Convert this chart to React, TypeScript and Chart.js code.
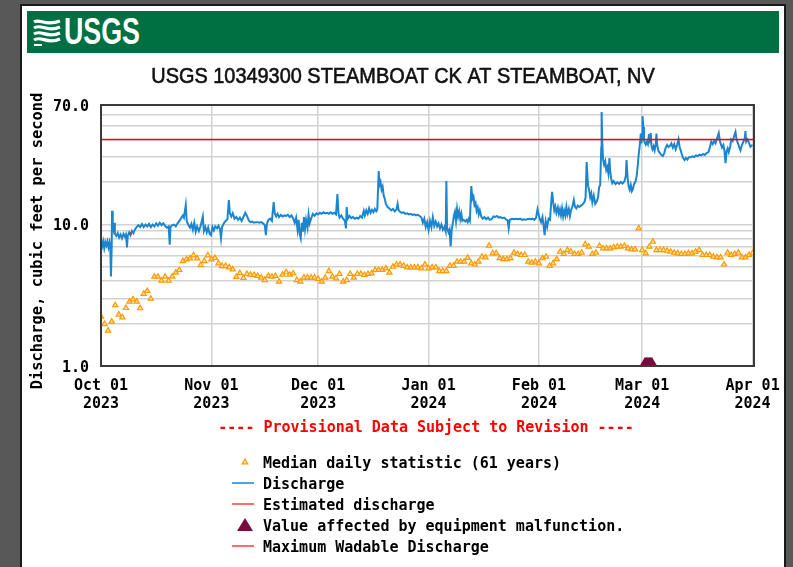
import React, { useEffect, useRef } from 'react';
import { Chart, registerables } from 'chart.js';

Chart.register(...registerables);

const chartTitle = 'USGS 10349300 STEAMBOAT CK AT STEAMBOAT, NV';
const yAxisTitle = 'Discharge, cubic feet per second';
const provisionalNote = '---- Provisional Data Subject to Revision ----';

// x axis: days since Oct 01 2023
const tickDays = [0, 31, 61, 92, 123, 152, 183];
const tickMonths = ['Oct 01', 'Nov 01', 'Dec 01', 'Jan 01', 'Feb 01', 'Mar 01', 'Apr 01'];
const tickYears = ['2023', '2023', '2023', '2024', '2024', '2024', '2024'];
const xMax = 183.4;

const yGridValues = [1, 2, 3, 4, 5, 6, 7, 8, 9, 10, 20, 30, 40, 50, 60, 70];
const yLabelValues = [1, 10, 70];
const yLabelTexts = ['1.0', '10.0', '70.0'];

// Median daily statistic (61 years), one value per day starting Oct 01
const medianDaily = [
  2.23, 1.98, 1.78, 2.06, 2.69, 2.31, 2.21, 2.57, 2.85, 2.96,
  2.85, 2.56, 3.24, 3.39, 2.99, 4.28, 4.28, 4.01, 4.28, 4.01,
  4.28, 4.57, 4.77, 5.52, 5.67, 5.77, 6.06, 5.77, 5.17, 5.52,
  6.06, 5.67, 5.80, 5.32, 5.09, 5.09, 4.98, 4.82, 4.26, 4.54,
  4.19, 4.47, 4.42, 4.40, 4.33, 4.22, 4.05, 4.33, 4.28, 4.33,
  3.95, 4.42, 4.60, 4.42, 4.51, 4.05, 3.95, 4.22, 4.22, 4.22,
  4.22, 4.12, 3.95, 4.21, 4.69, 4.28, 4.17, 4.47, 3.95, 4.05,
  4.47, 4.21, 4.47, 4.47, 4.40, 4.47, 4.52, 4.77, 4.77, 4.77,
  4.90, 4.57, 5.03, 5.22, 5.22, 5.11, 4.98, 4.98, 4.98, 4.98,
  4.90, 5.22, 4.90, 4.98, 4.98, 4.69, 4.69, 4.69, 5.11, 5.11,
  5.46, 5.46, 5.46, 5.82, 5.32, 5.22, 5.46, 5.92, 5.86, 7.08,
  6.26, 6.26, 5.78, 5.69, 5.69, 5.78, 6.32, 6.19, 6.09, 6.09,
  5.46, 5.37, 5.46, 5.32, 5.78, 5.92, 5.11, 5.32, 5.69, 6.42,
  6.19, 6.60, 6.42, 6.19, 6.19, 6.32, 7.25, 6.97, 6.19, 6.32,
  7.05, 6.79, 6.79, 6.79, 6.90, 6.97, 6.97, 7.05, 6.79, 6.68,
  6.68, 9.40, 6.60, 6.26, 6.97, 7.56, 6.60, 6.60, 6.60, 6.53,
  6.42, 6.32, 6.26, 6.19, 6.19, 6.26, 6.26, 6.42, 6.60, 6.09,
  6.09, 6.09, 5.92, 5.86, 5.86, 5.22, 6.32, 6.09, 6.19, 6.32,
  5.86, 5.86, 6.09, 6.26,
];

// Discharge readings: [day since Oct 01, cfs]
const discharge: [number, number][] = [
  [0, 7.4], [0.3, 7.0], [0.6, 7.6], [0.9, 6.8], [1.2, 7.5], [1.5, 7.1], [1.8, 7.6], [2.1, 6.9], [2.4, 7.5], [2.6, 7.0],
  [2.8, 4.3], [3.0, 6.8], [3.1, 12.5], [3.3, 10.2], [3.5, 9.4], [3.7, 10.3], [3.9, 8.6], [4.3, 8.3], [4.7, 8.7], [5.1, 8.1],
  [5.5, 8.5], [5.9, 8.0], [6.3, 8.6], [6.7, 8.2], [7.0, 8.5], [7.3, 6.9], [7.5, 8.3], [7.9, 8.8], [8.3, 8.4], [8.7, 9.0],
  [9.1, 8.7], [9.5, 9.2], [10.0, 9.6], [10.5, 9.9], [11.0, 9.6], [11.5, 10.1], [12.0, 9.6], [12.5, 10.0], [13.0, 9.7], [13.5, 10.1],
  [14.0, 9.6], [14.5, 10.0], [15.0, 9.7], [15.5, 10.2], [16.0, 9.8], [16.5, 10.3], [17.0, 9.9], [17.5, 10.2], [18.0, 9.8], [18.5, 9.5],
  [19.0, 9.7], [19.3, 7.2], [19.5, 9.6], [20.0, 9.9], [20.5, 10.0], [21.0, 9.7], [21.5, 10.2], [22.0, 10.6], [22.5, 11.1], [23.0, 11.6],
  [23.3, 11.2], [23.8, 13.7], [24.1, 10.5], [24.5, 10.0], [25.0, 9.5], [25.4, 10.1], [25.8, 9.2], [26.2, 10.3], [26.6, 8.9], [27.0, 9.7],
  [27.5, 9.0], [28.0, 9.8], [28.6, 11.4], [28.9, 9.0], [29.3, 9.6], [29.7, 8.8], [30.1, 9.5], [30.5, 8.6], [30.9, 8.4], [31.3, 9.6],
  [31.7, 9.1], [32.1, 9.7], [32.6, 9.4], [33.0, 9.8], [33.4, 9.3], [33.7, 8.0], [34.0, 9.6], [34.5, 10.2], [35.0, 10.6], [35.5, 10.9],
  [35.9, 14.9], [36.2, 12.0], [36.6, 11.4], [37.0, 12.0], [37.5, 11.0], [38.0, 11.3], [38.5, 10.8], [39.0, 11.2], [39.5, 10.6], [40.0, 11.3],
  [40.5, 12.1], [41.0, 11.5], [41.5, 10.7], [42.0, 10.4], [42.5, 10.5], [43.0, 10.3], [43.5, 10.4], [44.0, 10.4], [44.5, 10.3], [45.0, 10.4],
  [45.5, 10.2], [46.0, 9.9], [46.3, 8.4], [46.6, 10.1], [47.0, 10.8], [47.5, 11.0], [48.0, 10.6], [48.5, 14.4], [48.8, 12.0], [49.2, 11.4],
  [49.6, 11.9], [50.0, 11.3], [50.5, 11.7], [51.0, 11.4], [51.5, 11.6], [52.0, 11.5], [52.5, 11.7], [53.0, 11.3], [53.5, 11.6], [54.0, 11.0],
  [54.4, 10.3], [54.8, 11.2], [55.2, 9.2], [55.5, 10.8], [55.8, 8.6], [56.1, 8.0], [56.4, 10.3], [56.7, 8.9], [57.0, 11.3], [57.3, 9.3],
  [57.6, 10.8], [58.0, 9.5], [58.3, 11.7], [58.6, 10.2], [59.0, 11.0], [59.5, 11.9], [60.0, 11.5], [60.5, 12.0], [61.0, 11.8], [61.5, 12.1],
  [62.0, 11.9], [62.5, 12.2], [63.0, 12.0], [63.5, 12.1], [64.0, 11.9], [64.5, 12.2], [65.0, 11.9], [65.5, 12.1], [66.0, 11.8], [66.4, 16.4],
  [66.7, 12.0], [67.0, 11.2], [67.5, 11.6], [68.0, 11.0], [68.5, 10.6], [68.8, 9.4], [69.0, 13.3], [69.3, 11.0], [69.8, 11.5], [70.3, 11.1],
  [70.8, 11.3], [71.3, 11.0], [71.8, 11.2], [72.3, 11.0], [72.8, 11.5], [73.3, 11.2], [73.8, 12.5], [74.1, 11.6], [74.5, 12.6], [74.9, 11.9],
  [75.3, 13.0], [75.7, 12.1], [76.1, 12.7], [76.5, 12.2], [76.9, 12.9], [77.3, 12.4], [77.6, 12.8], [78.0, 23.9], [78.2, 19.0], [78.5, 20.0],
  [78.8, 17.6], [79.1, 18.5], [79.4, 16.0], [79.7, 15.2], [80.0, 14.0], [80.5, 13.3], [81.0, 13.0], [81.5, 12.6], [82.0, 12.9], [82.5, 12.4],
  [83.0, 12.8], [83.3, 14.0], [83.6, 12.6], [84.0, 12.3], [84.5, 12.1], [85.0, 12.2], [85.5, 11.9], [86.0, 12.0], [86.5, 11.8], [87.0, 11.9],
  [87.5, 11.7], [88.0, 11.8], [88.5, 11.6], [89.0, 11.7], [89.5, 11.5], [90.0, 11.2], [90.4, 10.3], [90.8, 11.0], [91.2, 9.6], [91.6, 10.4],
  [92.0, 9.2], [92.4, 10.6], [92.8, 9.6], [93.2, 11.3], [93.6, 9.8], [94.0, 10.5], [94.4, 9.7], [94.8, 10.2], [95.2, 9.4], [95.6, 10.0],
  [96.0, 9.2], [96.4, 9.6], [96.8, 8.9], [97.0, 20.3], [97.2, 9.5], [97.6, 8.8], [97.9, 9.2], [98.2, 7.0], [98.5, 9.1], [98.8, 10.2],
  [99.1, 11.5], [99.4, 12.3], [99.7, 10.6], [100.0, 12.9], [100.3, 11.4], [100.6, 12.4], [100.9, 10.9], [101.2, 11.9], [101.5, 10.6], [101.9, 10.8],
  [102.3, 10.5], [102.7, 10.8], [103.0, 10.4], [103.3, 11.0], [103.6, 10.6], [104.0, 18.7], [104.3, 15.2], [104.6, 15.8], [104.9, 13.7], [105.2, 14.2],
  [105.5, 12.5], [105.8, 13.2], [106.1, 11.8], [106.4, 12.6], [106.8, 11.4], [107.2, 11.0], [107.7, 11.3], [108.2, 10.9], [108.7, 11.2], [109.2, 10.8],
  [109.7, 10.9], [110.2, 11.4], [110.7, 11.3], [111.2, 11.5], [111.7, 11.2], [112.2, 11.3], [112.7, 11.1], [113.2, 11.2], [113.7, 10.9], [114.2, 10.7],
  [114.5, 9.4], [114.8, 10.8], [115.2, 10.9], [115.7, 11.0], [116.2, 10.9], [116.7, 11.0], [117.2, 10.9], [117.7, 11.0], [118.2, 10.8], [118.7, 10.9],
  [119.2, 10.8], [119.7, 10.9], [120.2, 11.0], [120.7, 10.9], [121.2, 11.0], [121.7, 10.8], [122.2, 11.2], [122.6, 12.8], [122.9, 11.8], [123.2, 11.0],
  [123.6, 10.4], [124.0, 11.3], [124.3, 9.8], [124.6, 8.4], [124.9, 10.6], [125.3, 9.6], [125.7, 11.0], [126.1, 10.8], [126.5, 15.0], [126.7, 17.0],
  [127.0, 14.4], [127.3, 12.6], [127.6, 13.4], [127.9, 12.1], [128.3, 13.2], [128.6, 11.9], [128.9, 12.8], [129.2, 11.6], [129.5, 13.0], [129.8, 11.4],
  [130.1, 12.5], [130.4, 11.6], [130.7, 13.3], [131.0, 11.8], [131.4, 12.9], [131.7, 11.5], [132.0, 12.6], [132.4, 13.4], [132.8, 14.9], [133.1, 13.4],
  [133.5, 13.0], [133.9, 13.6], [134.3, 13.3], [134.8, 13.6], [135.3, 13.9], [135.8, 14.5], [136.1, 15.5], [136.4, 27.7], [136.6, 22.5], [136.8, 18.8],
  [137.1, 17.5], [137.4, 15.6], [137.7, 16.6], [138.0, 14.3], [138.4, 16.0], [138.8, 14.0], [139.2, 14.5], [139.6, 15.6], [139.9, 18.4], [140.2, 19.0],
  [140.5, 35.0], [140.6, 62.4], [140.8, 38.0], [141.0, 29.0], [141.3, 26.5], [141.6, 28.0], [141.9, 24.3], [142.2, 25.5], [142.5, 23.0], [142.8, 29.5],
  [143.0, 24.0], [143.3, 21.0], [143.6, 19.6], [144.0, 20.3], [144.5, 19.3], [145.0, 19.9], [145.5, 19.4], [146.0, 20.0], [146.5, 19.5], [147.0, 20.2],
  [147.4, 22.0], [147.6, 28.6], [147.9, 21.5], [148.2, 18.5], [148.5, 17.6], [148.8, 19.0], [149.1, 17.2], [149.4, 17.8], [149.7, 19.4], [150.1, 20.0],
  [150.5, 22.5], [150.8, 27.0], [151.0, 31.0], [151.3, 36.0], [151.6, 44.0], [151.8, 37.5], [152.0, 44.0], [152.1, 58.4], [152.3, 49.0], [152.5, 40.0],
  [152.7, 38.0], [153.0, 36.8], [153.3, 38.5], [153.6, 37.0], [153.9, 43.5], [154.1, 37.5], [154.4, 44.4], [154.6, 36.0], [154.9, 34.0], [155.2, 35.8],
  [155.5, 33.5], [155.8, 37.0], [156.0, 44.0], [156.2, 36.5], [156.6, 33.0], [157.0, 32.0], [157.4, 31.0], [157.8, 30.5], [158.2, 32.0], [158.6, 35.0],
  [159.0, 36.5], [159.4, 35.3], [159.8, 36.0], [160.2, 37.5], [160.6, 35.0], [161.0, 37.0], [161.4, 34.0], [161.8, 36.5], [162.2, 40.0], [162.5, 35.5],
  [162.8, 33.5], [163.1, 31.5], [163.5, 29.5], [163.9, 28.6], [164.3, 29.5], [164.7, 28.8], [165.1, 29.8], [165.6, 30.0], [166.1, 30.4], [166.6, 30.0],
  [167.1, 30.8], [167.6, 30.5], [168.1, 31.2], [168.6, 30.8], [169.1, 31.5], [169.6, 31.0], [170.1, 32.0], [170.6, 32.5], [171.0, 35.0], [171.4, 38.5],
  [171.8, 37.0], [172.2, 39.0], [172.6, 37.5], [173.0, 40.5], [173.5, 44.4], [173.8, 39.0], [174.1, 37.0], [174.4, 35.0], [174.8, 36.5], [175.1, 33.0],
  [175.4, 27.2], [175.7, 33.0], [176.0, 34.5], [176.3, 32.5], [176.7, 35.5], [177.0, 40.0], [177.4, 39.0], [177.8, 42.0], [178.2, 45.1], [178.5, 40.0],
  [178.9, 37.5], [179.3, 35.0], [179.6, 33.5], [180.0, 36.5], [180.4, 38.5], [180.8, 40.5], [181.0, 45.8], [181.2, 38.5], [181.6, 40.0], [182.0, 37.8],
  [182.4, 35.5], [182.8, 36.2], [183.0, 36.0],
];

const estimated: [number, number][] = [[8.1, 8.7], [8.4, 8.6]];
const maxWadableCfs = 40;
const malfunctionDays = [152.75, 153.0, 153.25, 153.5, 153.75, 154.0, 154.25, 154.5, 154.75];
const malfunctionCfs = 1.0;

const legendLabels = [
  'Median daily statistic (61 years)',
  'Discharge',
  'Estimated discharge',
  'Value affected by equipment malfunction.',
  'Maximum Wadable Discharge',
];

const BLUE = '#1b86cf';
const ORANGE = '#ff9a00';
const ORANGE_FILL = '#ffe0a0';
const RED = '#ff0000';
const MAROON = '#7a0b3d';
const GRID = '#d2d2d2';
const MONO = '"DejaVu Sans Mono", monospace';

export default function App() {
  const ref = useRef<HTMLCanvasElement>(null);

  useEffect(() => {
    const canvas = ref.current;
    if (!canvas) return;

    const overlay = {
      id: 'usgsOverlay',
      afterDatasetsDraw(chart: any) {
        const { left, top, right, bottom } = chart.chartArea;
        const ctx = chart.ctx;
        ctx.save();
        ctx.strokeStyle = '#3a3a3a';
        ctx.lineWidth = 2;
        ctx.strokeRect(left, top, right - left, bottom - top);
        ctx.restore();
      },
      afterDraw(chart: any) {
        const ctx = chart.ctx;
        ctx.save();
        // title
        ctx.fillStyle = '#111';
        ctx.strokeStyle = '#111';
        ctx.lineWidth = 0.6;
        ctx.font = '22px "Liberation Sans", Arial, sans-serif';
        ctx.textAlign = 'center';
        ctx.textBaseline = 'alphabetic';
        ctx.save();
        ctx.translate(403, 83);
        ctx.scale(0.905, 1);
        ctx.fillText(chartTitle, 0, 0);
        ctx.strokeText(chartTitle, 0, 0);
        ctx.restore();

        ctx.font = `bold 15px ${MONO}`;
        ctx.fillStyle = '#000';
        ctx.textBaseline = 'middle';

        // y tick labels (positions from the library's scale)
        const yScale = chart.scales.y;
        ctx.textAlign = 'right';
        yLabelValues.forEach((v, i) => {
          ctx.fillText(yLabelTexts[i], 89, yScale.getPixelForValue(v) + 2);
        });

        // y axis title
        ctx.save();
        ctx.translate(38, 241);
        ctx.rotate(-Math.PI / 2);
        ctx.textAlign = 'center';
        ctx.font = `bold 15.4px ${MONO}`;
        ctx.fillText(yAxisTitle, 0, 0);
        ctx.restore();

        // provisional note
        ctx.fillStyle = RED;
        ctx.textAlign = 'center';
        ctx.fillText(provisionalNote, 426, 428);

        // legend
        ctx.textAlign = 'left';
        legendLabels.forEach((label, i) => {
          const y = 462 + i * 21;
          ctx.fillStyle = '#000';
          ctx.fillText(label, 263, y + 2);
          if (i === 0) {
            ctx.beginPath();
            ctx.moveTo(245, y - 3);
            ctx.lineTo(247.8, y + 1.8);
            ctx.lineTo(242.2, y + 1.8);
            ctx.closePath();
            ctx.fillStyle = ORANGE_FILL;
            ctx.fill();
            ctx.strokeStyle = ORANGE;
            ctx.lineWidth = 1.2;
            ctx.stroke();
          } else if (i === 3) {
            ctx.beginPath();
            ctx.moveTo(245, y - 7);
            ctx.lineTo(253, y + 6);
            ctx.lineTo(237, y + 6);
            ctx.closePath();
            ctx.fillStyle = MAROON;
            ctx.fill();
          } else {
            ctx.beginPath();
            ctx.moveTo(232, y);
            ctx.lineTo(254, y);
            ctx.strokeStyle = i === 1 ? BLUE : '#ff3b3b';
            ctx.lineWidth = 1.5;
            ctx.stroke();
          }
        });
        ctx.restore();
      },
    };

    const tickFont = { family: MONO, size: 15, weight: 'bold' as const, lineHeight: 1.2 };

    const chart = new Chart(canvas, {
      type: 'line',
      data: {
        datasets: [
          {
            type: 'scatter',
            label: 'malfunction',
            data: malfunctionDays.map((d) => ({ x: d, y: malfunctionCfs })),
            pointStyle: 'triangle',
            pointRadius: 9,
            backgroundColor: MAROON,
            borderColor: MAROON,
            borderWidth: 0,
            clip: 0,
            order: 0,
          } as any,
          {
            label: 'wadable',
            data: [{ x: 0, y: maxWadableCfs }, { x: xMax, y: maxWadableCfs }],
            borderColor: RED,
            borderWidth: 1.5,
            pointRadius: 0,
            order: 1,
          },
          {
            label: 'estimated',
            data: estimated.map(([x, y]) => ({ x, y })),
            borderColor: RED,
            borderWidth: 2,
            pointRadius: 0,
            order: 2,
          },
          {
            label: 'discharge',
            data: discharge.map(([x, y]) => ({ x, y })),
            borderColor: BLUE,
            borderWidth: 2,
            pointRadius: 0,
            order: 3,
          },
          {
            type: 'scatter',
            label: 'median',
            data: medianDaily.map((y, x) => ({ x, y })),
            pointStyle: 'triangle',
            pointRadius: 3,
            borderColor: ORANGE,
            backgroundColor: ORANGE_FILL,
            borderWidth: 1.2,
            order: 4,
          } as any,
        ],
      },
      options: {
        responsive: false,
        animation: false,
        events: [],
        layout: { padding: { left: 0, top: 105, right: 39, bottom: 0 } },
        plugins: {
          legend: { display: false },
          title: { display: false },
          tooltip: { enabled: false },
        },
        scales: {
          x: {
            type: 'linear',
            min: 0,
            max: xMax,
            afterBuildTicks: (s: any) => {
              s.ticks = tickDays.map((v) => ({ value: v }));
            },
            afterFit: (s: any) => {
              s.height = 201;
            },
            ticks: {
              autoSkip: false,
              maxRotation: 0,
              padding: 11,
              color: '#000',
              font: tickFont,
              callback: (v: any) => {
                const i = tickDays.indexOf(Number(v));
                return i < 0 ? '' : [tickMonths[i], tickYears[i]];
              },
            },
            grid: { color: GRID, lineWidth: 1.5, drawTicks: false },
            border: { display: false },
          },
          y: {
            type: 'logarithmic',
            min: 1,
            max: 70,
            afterBuildTicks: (s: any) => {
              s.ticks = yGridValues.map((v) => ({ value: v }));
            },
            afterFit: (s: any) => {
              s.width = 101;
            },
            ticks: { display: false },
            grid: { color: GRID, lineWidth: 1.5, drawTicks: false },
            border: { display: false },
          },
        },
      } as any,
      plugins: [overlay],
    });

    return () => chart.destroy();
  }, []);

  return (
    <div
      style={{
        position: 'fixed',
        left: 0,
        top: 0,
        width: 793,
        height: 567,
        background: '#585858',
        overflow: 'hidden',
      }}
    >
      <div
        style={{
          position: 'absolute',
          left: 20,
          top: 4,
          width: 766,
          height: 620,
          background: '#fff',
          border: '2px solid #1a1a1a',
          boxSizing: 'border-box',
        }}
      />
      <div
        style={{
          position: 'absolute',
          left: 27,
          top: 11,
          width: 752,
          height: 42,
          background: '#006f41',
          overflow: 'hidden',
        }}
      >
        <svg
          width="28"
          height="28"
          viewBox="0 0 28 28"
          style={{ position: 'absolute', left: 6, top: 7 }}
        >
          <path d="M1 4 C7 0, 12 9, 27 3" stroke="#fff" strokeWidth="3.2" fill="none" />
          <path d="M1 10 C8 5, 13 15, 27 9" stroke="#fff" strokeWidth="3.2" fill="none" />
          <path d="M1 16 C8 11, 14 21, 27 15" stroke="#fff" strokeWidth="3.2" fill="none" />
          <path d="M1 22 C8 17, 14 27, 27 21" stroke="#fff" strokeWidth="3.2" fill="none" />
          <path d="M1 27 L9 27" stroke="#fff" strokeWidth="2" fill="none" />
        </svg>
        <span
          style={{
            position: 'absolute',
            left: 37,
            top: 3,
            fontFamily: '"Liberation Sans", Arial, sans-serif',
            fontWeight: 'bold',
            fontSize: 36,
            lineHeight: '36px',
            color: '#fff',
            transform: 'scaleX(0.745)',
            transformOrigin: 'left top',
            whiteSpace: 'nowrap',
          }}
        >
          USGS
        </span>
      </div>
      <canvas
        ref={ref}
        width={793}
        height={567}
        style={{ position: 'absolute', left: 0, top: 0, width: 793, height: 567 }}
      />
    </div>
  );
}
